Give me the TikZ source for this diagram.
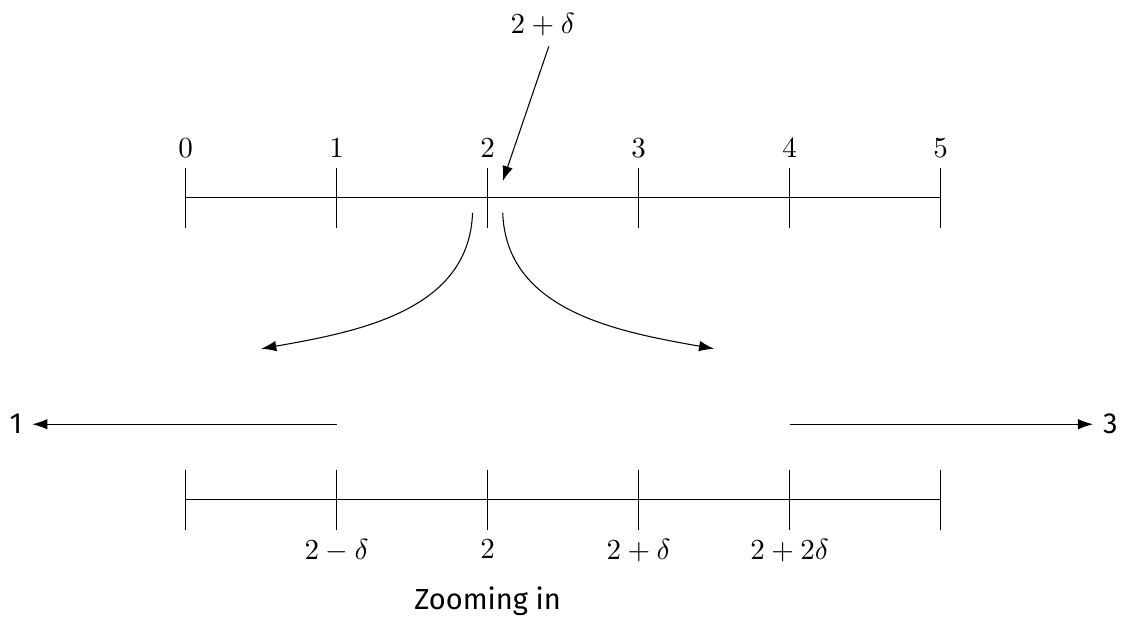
\documentclass[tikz,border=0pt,11pt]{standalone}
\usepackage{fontspec}
\setsansfont{Fira Sans}
\usetikzlibrary{positioning,arrows.meta}
\begin{document}
\begin{tikzpicture}[
      >={Latex[length=2mm,width=1.4mm]},
      ticklbl/.style={inner sep=0.12cm},
      sflbl/.style={font=\sffamily},
      zoomarrow/.style={->}]
    \useasboundingbox (-2.46,-5.55) rectangle (12.43,2.62);
    % top number line
    \draw (0,0) -- (10,0);
    \foreach \x in {0,...,5} {
      \draw (2*\x,0.4) -- (2*\x,-0.4);
      \node[ticklbl,above] (t\x) at (2*\x,0.4) {$\x$};
    }
    \node (pt) at (4.73,2.29) {$2+\delta$};
    \coordinate (hit) at (4.2,0.22);
    \draw[zoomarrow] ([xshift=0.08cm]pt.south) -- (hit);
    % zoom curves
    \coordinate (cl) at (3.8,-0.2);
    \coordinate (cr) at (4.2,-0.2);
    \coordinate (el) at (1.0,-2.0);
    \coordinate (er) at (7.0,-2.0);
    \draw[zoomarrow] (cl) to[out=-92,in=10] (el);
    \draw[zoomarrow] (cr) to[out=-88,in=170] (er);
    % left and right tails
    \coordinate (ls) at (2,-3);
    \coordinate (rs) at (8,-3);
    \node[sflbl] (one) at (-2.25,-3) {1};
    \node[sflbl] (three) at (12.25,-3) {3};
    \draw[zoomarrow] (ls) -- (one);
    \draw[zoomarrow] (rs) -- (three);
    % zoomed number line
    \draw (0,-4) -- (10,-4);
    \foreach \x in {0,...,5} \draw (2*\x,-3.6) -- (2*\x,-4.4);
    \foreach \x/\t in {1/2-\delta,2/2,3/2+\delta,4/2+2\delta}
      \node[ticklbl,below] (b\x) at (2*\x,-4.4) {$\t$};
    \node[sflbl] (cap) at (4,-5.34) {Zooming in};
  \end{tikzpicture}
\end{document}
